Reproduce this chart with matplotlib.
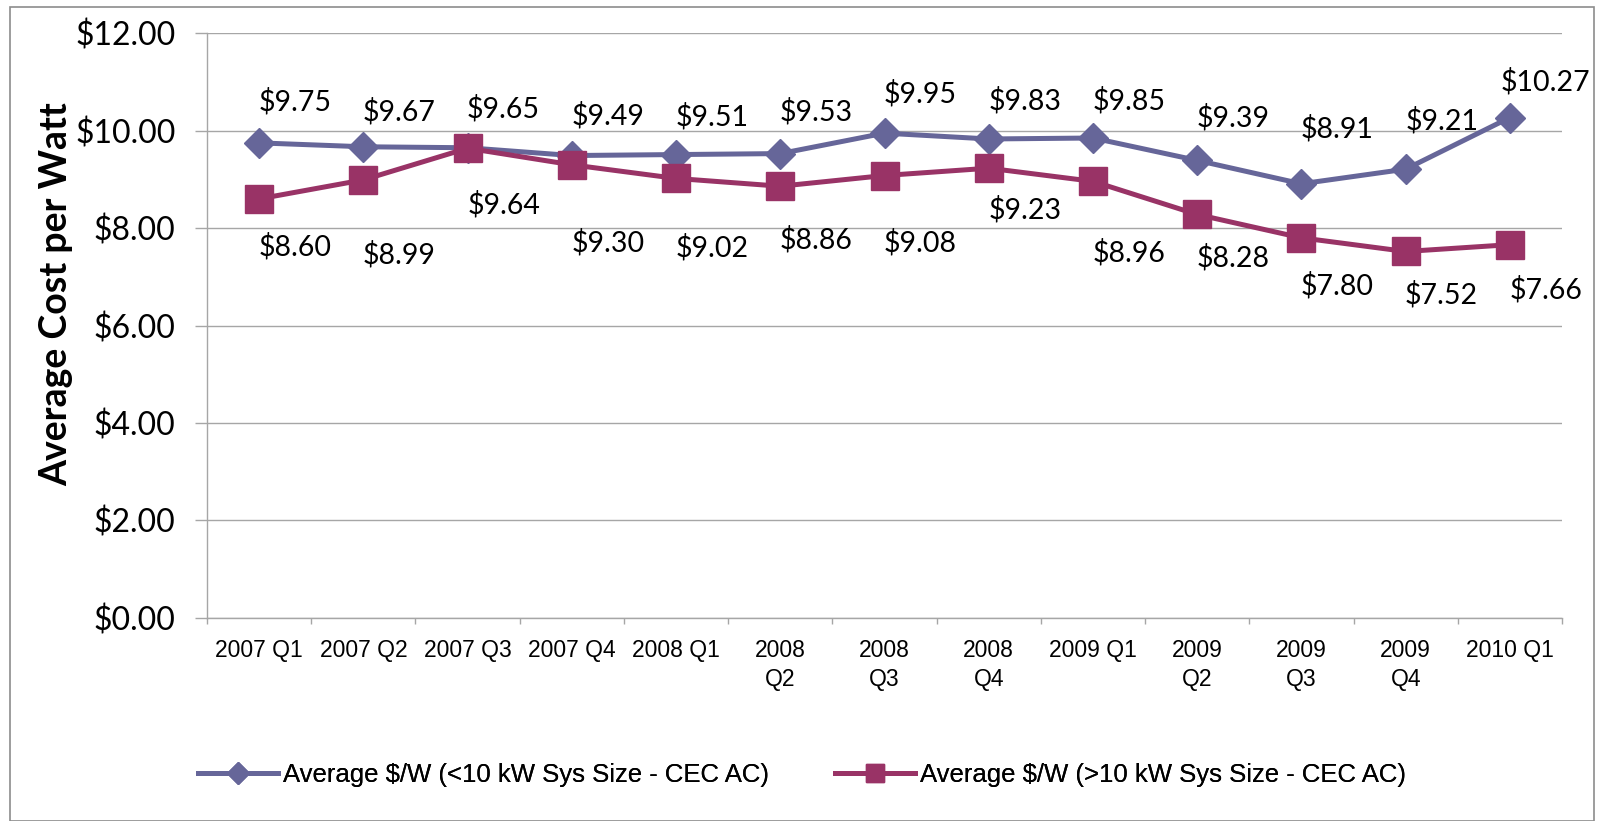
import matplotlib
matplotlib.use("Agg")
import matplotlib.pyplot as plt
from matplotlib import font_manager
from matplotlib.lines import Line2D
from matplotlib.patches import Rectangle

# ---- data ----
quarters = ["2007 Q1", "2007 Q2", "2007 Q3", "2007 Q4", "2008 Q1", "2008\nQ2",
            "2008\nQ3", "2008\nQ4", "2009 Q1", "2009\nQ2", "2009\nQ3", "2009\nQ4", "2010 Q1"]
small_sys = [9.75, 9.67, 9.65, 9.49, 9.51, 9.53, 9.95, 9.83, 9.85, 9.39, 8.91, 9.21, 10.27]
large_sys = [8.60, 8.99, 9.64, 9.30, 9.02, 8.86, 9.08, 9.23, 8.96, 8.28, 7.80, 7.52, 7.66]
series_names = ["Average $/W (<10 kW Sys Size - CEC AC)",
                "Average $/W (>10 kW Sys Size - CEC AC)"]
y_ticks = [0, 2, 4, 6, 8, 10, 12]

# ---- label layout (pixel offsets of data labels from their markers) ----
label_dx = 36
small_dy = [41, 35, 39, 40, 38, 42, 39, 38, 37, 43, 55, 48, 36]
large_dy = [-48, -75, -57, -78, -69, -54, -67, -42, -71, -43, -48, -43, -45]

# ---- fonts ----
names = {f.name for f in font_manager.fontManager.ttflist}
arial_like = "Liberation Sans" if "Liberation Sans" in names else "DejaVu Sans"
main_font = "Lato" if "Lato" in names else "DejaVu Sans"

BLUE = "#666699"
RED = "#993366"
GRID = "#a6a6a6"

W, H = 1598, 821
fig = plt.figure(figsize=(W / 100, H / 100), dpi=100)
fig.patch.set_facecolor("white")

# outer chart border
fig.patches.append(Rectangle((10 / W, 0), (1594 - 10) / W, 1 - 7 / H,
                             transform=fig.transFigure, fill=False,
                             edgecolor="#8c8c8c", linewidth=1.2))

ax = fig.add_axes([207 / W, 1 - 617.7 / H, (1562 - 207) / W, (617.7 - 33.3) / H])
x = list(range(len(quarters)))

ax.plot(x, small_sys, color=BLUE, lw=3.6, marker="D", ms=15.5,
        mfc=BLUE, mec=BLUE, zorder=3, solid_joinstyle="round")
ax.plot(x, large_sys, color=RED, lw=3.6, marker="s", ms=20,
        mfc=RED, mec=RED, zorder=4, solid_joinstyle="round")

for xi, v, dy in zip(x, small_sys, small_dy):
    ax.annotate(f"${v:.2f}", (xi, v), xytext=(label_dx, dy), textcoords="offset pixels",
                ha="center", va="center", fontsize=20.5, family=main_font, zorder=5,
                annotation_clip=False)
for xi, v, dy in zip(x, large_sys, large_dy):
    ax.annotate(f"${v:.2f}", (xi, v), xytext=(label_dx, dy), textcoords="offset pixels",
                ha="center", va="center", fontsize=20.5, family=main_font, zorder=5,
                annotation_clip=False)

ax.set_xlim(-0.5, len(quarters) - 0.5)
ax.set_ylim(0, 12)
ax.set_yticks(y_ticks)
ax.set_yticklabels([f"${t:.2f}" for t in y_ticks], fontsize=23, family=main_font)
ax.set_xticks(x)
ax.set_xticklabels(quarters, fontsize=16.5, family=arial_like, linespacing=1.35)
ax.set_xticks([i - 0.5 for i in range(len(quarters) + 1)], minor=True)

ax.tick_params(axis="x", which="major", length=0, pad=15)
ax.tick_params(axis="x", which="minor", length=4.3, width=1, color=GRID, direction="out")
ax.tick_params(axis="y", which="major", length=8.6, width=1, color=GRID, direction="out", pad=14)

ax.grid(axis="y", color=GRID, lw=1)
ax.set_axisbelow(True)
for s in ["top", "right"]:
    ax.spines[s].set_visible(False)
for s in ["left", "bottom"]:
    ax.spines[s].set_color(GRID)
    ax.spines[s].set_linewidth(1)

fig.text(56 / W, 1 - 294 / H, "Average Cost per Watt", rotation=90, ha="center", va="center",
         fontsize=27, fontweight="bold", family=main_font)

lg_size = 18.5
handles = [Line2D([], [], color=BLUE, lw=3.6, marker="D", ms=10.7, mfc=BLUE, mec=BLUE),
           Line2D([], [], color=RED, lw=3.6, marker="s", ms=12.5, mfc=RED, mec=RED)]
legend_x = [198, 835]
fs_px = lg_size * 100 / 72
for h, name, lx in zip(handles, series_names, legend_x):
    lg = fig.legend([h], [name], loc="center left", bbox_to_anchor=(lx / W, 1 - 775 / H),
                    frameon=False, borderpad=0, borderaxespad=0, handlelength=80 / fs_px,
                    handletextpad=5 / fs_px, prop={"family": arial_like, "size": lg_size})
    fig.add_artist(lg)

fig.savefig("out.png", dpi=100)
